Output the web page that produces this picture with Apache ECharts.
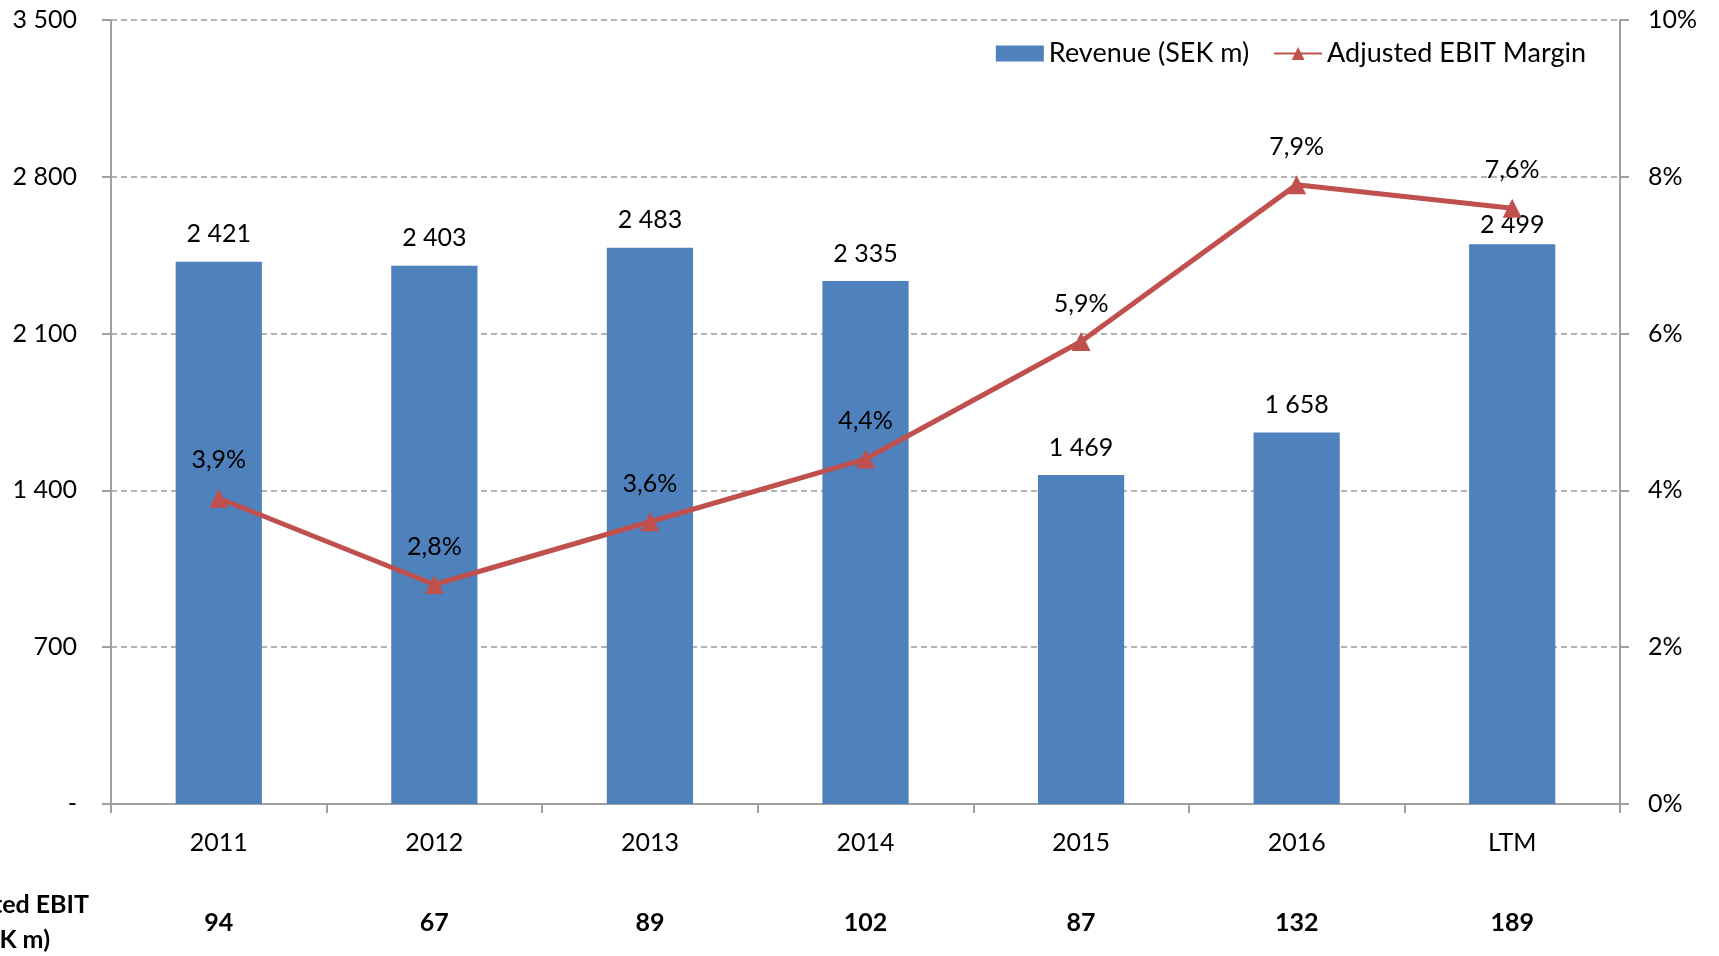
<!DOCTYPE html>
<html>
<head>
<meta charset="utf-8">
<script src="https://cdn.jsdelivr.net/npm/echarts@6/dist/echarts.min.js"></script>
<style>
  html, body { margin: 0; padding: 0; background: #fff; }
  #chart { width: 1719px; height: 956px; }
</style>
</head>
<body>
<div id="chart"></div>
<script>
// data
const categories = ["2011", "2012", "2013", "2014", "2015", "2016", "LTM"];
const revenue = [2421, 2403, 2483, 2335, 1469, 1658, 2499];
const margin = [3.9, 2.8, 3.6, 4.4, 5.9, 7.9, 7.6];
const adjEbit = ["94", "67", "89", "102", "87", "132", "189"];
const revenueTicks = [0, 700, 1400, 2100, 2800, 3500];

const FONT = "Lato";
const axisGray = "#a0a0a0";

function spaced(n) {
  // 2421 -> "2 421", 0 -> "-"
  if (n === 0) return "-";
  return String(n).replace(/\B(?=(\d{3})+(?!\d))/g, " ");
}

var myChart = echarts.init(document.getElementById("chart"));

var option = {
  animation: false,
  textStyle: { fontFamily: FONT },
  grid: { left: 111, right: 99, top: 20, bottom: 152 },
  legend: {
    right: 128,
    top: 35,
    itemGap: 24,
    itemWidth: 48,
    itemHeight: 16,
    textStyle: { fontSize: 27, color: "#000", fontFamily: FONT },
    data: [
      { name: "Revenue (SEK m)", icon: "rect" },
      { name: "Adjusted EBIT Margin" }
    ]
  },
  xAxis: [
    {
      type: "category",
      data: categories,
      axisLine: { lineStyle: { color: axisGray, width: 2 } },
      axisTick: { show: true, length: 9, lineStyle: { color: axisGray, width: 2 } },
      axisLabel: { margin: 26, fontSize: 25, color: "#000", fontFamily: FONT }
    },
    {
      type: "category",
      position: "bottom",
      offset: 80,
      data: adjEbit,
      axisLine: { show: false },
      axisTick: { show: false },
      axisLabel: { margin: 26, fontSize: 25, fontWeight: "bold", color: "#000", fontFamily: FONT }
    }
  ],
  yAxis: [
    {
      type: "value",
      min: 0,
      max: revenueTicks[revenueTicks.length - 1],
      interval: revenueTicks[1] - revenueTicks[0],
      axisLine: { show: true, lineStyle: { color: axisGray, width: 2 } },
      axisTick: { show: true, length: 9, lineStyle: { color: axisGray, width: 2 } },
      axisLabel: { margin: 34, fontSize: 25, color: "#000", fontFamily: FONT, formatter: spaced },
      splitLine: { show: true, lineStyle: { color: "#999", width: 1.5, type: [6, 4] } }
    },
    {
      type: "value",
      min: 0,
      max: 10,
      interval: 2,
      axisLine: { show: true, lineStyle: { color: axisGray, width: 2 } },
      axisTick: { show: true, length: 9, lineStyle: { color: axisGray, width: 2 } },
      axisLabel: { margin: 28, fontSize: 25, color: "#000", fontFamily: FONT, formatter: v => v + "%" },
      splitLine: { show: false }
    }
  ],
  series: [
    {
      name: "Revenue (SEK m)",
      type: "bar",
      barWidth: "40%",
      itemStyle: { color: "#4F81BD" },
      label: {
        show: true,
        position: "top",
        distance: 15,
        fontSize: 25,
        color: "#000",
        fontFamily: FONT,
        formatter: p => spaced(p.value)
      },
      // LTM label sits closer to its bar in the original
      data: revenue.map((v, i) => i === revenue.length - 1 ? { value: v, label: { distance: 7 } } : v)
    },
    {
      name: "Adjusted EBIT Margin",
      type: "line",
      yAxisIndex: 1,
      data: margin,
      symbol: "triangle",
      symbolSize: 19,
      itemStyle: { color: "#C0504D" },
      lineStyle: { color: "#C0504D", width: 5 },
      label: {
        show: true,
        position: "top",
        distance: 16,
        fontSize: 25,
        color: "#000",
        fontFamily: FONT,
        formatter: p => String(p.value.toFixed(1)).replace(".", ",") + "%"
      },
      z: 5
    }
  ],
  graphic: [
    {
      type: "text",
      x: 89,
      y: 905,
      style: {
        text: "Adjusted EBIT",
        fontSize: 25,
        fontWeight: "bold",
        fontFamily: FONT,
        fill: "#000",
        align: "right",
        verticalAlign: "middle"
      }
    },
    {
      type: "text",
      x: 50,
      y: 940,
      style: {
        text: "(SEK m)",
        fontSize: 25,
        fontWeight: "bold",
        fontFamily: FONT,
        fill: "#000",
        align: "right",
        verticalAlign: "middle"
      }
    }
  ]
};

option && myChart.setOption(option);
</script>
</body>
</html>
